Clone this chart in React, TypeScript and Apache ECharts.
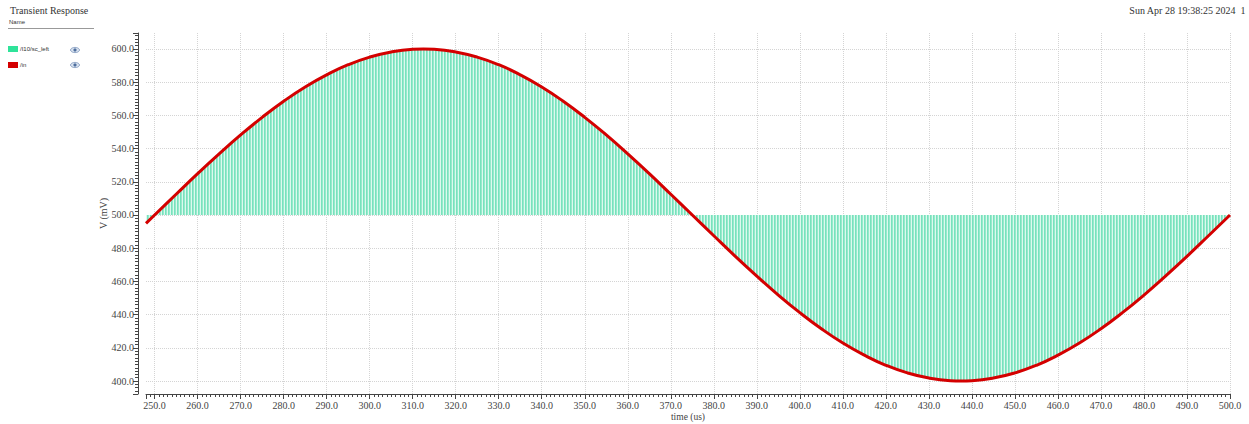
import React, { useEffect, useRef } from "react";
import * as echarts from "echarts";

// time (us)
const timeUs = [
  248, 250, 255, 260, 265, 270, 275, 280, 285, 290, 295, 300, 305, 310, 312.5, 315, 320, 325, 330,
  335, 340, 345, 350, 355, 360, 365, 370, 375, 380, 385, 390, 395, 400, 405, 410, 415, 420,
  425, 430, 435, 437.5, 440, 445, 450, 455, 460, 465, 470, 475, 480, 485, 490, 495, 500,
];
// /in (mV)
const vInMv = [
  495.0, 500.0, 512.5, 524.9, 536.8, 548.2, 558.8, 568.5, 577.1, 584.4, 590.5, 595.1, 598.2, 599.8, 600.0, 599.8,
  598.2, 595.1, 590.5, 584.4, 577.1, 568.5, 558.8, 548.2, 536.8, 524.9, 512.5, 500.0, 487.5,
  475.1, 463.2, 451.8, 441.2, 431.5, 422.9, 415.6, 409.5, 404.9, 401.8, 400.2, 400.0, 400.2, 401.8,
  404.9, 409.5, 415.6, 422.9, 431.5, 441.2, 451.8, 463.2, 475.1, 487.5, 500.0,
];
// /I10/sc_left sampled envelope (mV) — follows the input peaks
const scLeftMv = vInMv;
const scLeftBaseline = 500;

const legendNames = ["/I10/sc_left", "/in"];
const legendColors = ["#2fe39a", "#d40000"];

const SERIF = '"Liberation Serif", "DejaVu Serif", serif';
const SANS = '"Liberation Sans", "DejaVu Sans", sans-serif';

function makeStripe(): string {
  const c = document.createElement("canvas");
  c.width = 3;
  c.height = 1;
  const ctx = c.getContext("2d")!;
  const cols = ["#78e1bd", "#96eacb", "#dcf9ee"];
  cols.forEach((col, i) => {
    ctx.fillStyle = col;
    ctx.fillRect(i, 0, 1, 1);
  });
  return c.toDataURL();
}

function eye(x: number, y: number) {
  return {
    type: "group",
    x,
    y,
    children: [
      { type: "ellipse", shape: { cx: 0, cy: 0, rx: 4.5, ry: 2.6 }, style: { fill: "#dbe4f0", stroke: "#7d97bd", lineWidth: 0.8 } },
      { type: "circle", shape: { cx: 0, cy: 0, r: 1.6 }, style: { fill: "#4f6f9e" } },
    ],
  };
}

export default function App() {
  const ref = useRef<HTMLDivElement>(null);
  useEffect(() => {
    if (!ref.current) return;
    const chart = echarts.init(ref.current, undefined, { renderer: "svg" });
    const pts = timeUs.map((t, i) => [t, vInMv[i]]);
    const env = timeUs.map((t, i) => [t, scLeftMv[i]]);
    const stripe = makeStripe();
    chart.setOption({
      animation: false,
      backgroundColor: "#ffffff",
      grid: { left: 146, right: 19, top: 33, bottom: 30, containLabel: false, outerBoundsMode: "none" },
      xAxis: {
        type: "value",
        min: 248,
        max: 500,
        splitNumber: 25,
        name: "time (us)",
        nameLocation: "middle",
        nameGap: 18,
        nameMoveOverlap: false,
        nameTextStyle: { fontFamily: SERIF, fontSize: 9.5, color: "#444" },
        axisLine: { show: true, lineStyle: { color: "#444", width: 1 } },
        axisTick: { show: true, length: 5, lineStyle: { color: "#444" } },
        minorTick: { show: true, splitNumber: 10, length: 3, lineStyle: { color: "#444" } },
        axisLabel: {
          fontFamily: SERIF,
          fontSize: 10,
          color: "#444",
          margin: 6,
          showMinLabel: false,
          formatter: (v: number) => v.toFixed(1),
        },
        splitLine: {
          show: true,
          showMinLine: false,
          lineStyle: { color: "#d4d4d4", type: "dotted", width: 1 },
        },
      },
      yAxis: {
        type: "value",
        min: 392.2,
        max: 609.6,
        splitNumber: 11,
        offset: 8,
        name: "V (mV)",
        nameLocation: "middle",
        nameGap: 30,
        nameMoveOverlap: false,
        nameTextStyle: { fontFamily: SERIF, fontSize: 10, color: "#444" },
        axisLine: { show: true, lineStyle: { color: "#444", width: 1 } },
        axisTick: { show: true, length: 5, lineStyle: { color: "#444" } },
        minorTick: { show: true, splitNumber: 10, length: 3, lineStyle: { color: "#444" } },
        axisLabel: {
          fontFamily: SERIF,
          fontSize: 10,
          color: "#444",
          margin: 4,
          showMinLabel: false,
          showMaxLabel: false,
          formatter: (v: number) => v.toFixed(1),
        },
        splitLine: {
          show: true,
          showMinLine: false,
          showMaxLine: false,
          lineStyle: { color: "#d4d4d4", type: "dotted", width: 1 },
        },
      },
      series: [
        {
          name: legendNames[0],
          type: "line",
          data: env,
          smooth: true,
          showSymbol: false,
          lineStyle: { width: 0, opacity: 0 },
          areaStyle: {
            origin: scLeftBaseline,
            opacity: 1,
            color: { image: stripe, repeat: "repeat", imageWidth: 3, imageHeight: 1 },
          },
          z: 2,
        },
        {
          name: legendNames[1],
          type: "line",
          data: pts,
          smooth: true,
          showSymbol: false,
          lineStyle: { width: 3, color: legendColors[1] },
          z: 3,
        },
      ],
      graphic: [
        { type: "text", left: 10, top: 5, style: { text: "Transient Response", fontFamily: SERIF, fontSize: 10, fill: "#333" } },
        { type: "text", left: 9, top: 19, style: { text: "Name", fontFamily: SANS, fontSize: 6, fill: "#333" } },
        { type: "line", shape: { x1: 8, y1: 28.5, x2: 94, y2: 28.5 }, style: { stroke: "#999", lineWidth: 1 } },
        { type: "rect", shape: { x: 8, y: 46, width: 10, height: 6 }, style: { fill: legendColors[0] } },
        { type: "text", left: 20, top: 46, style: { text: legendNames[0], fontFamily: SANS, fontSize: 6, fill: "#333" } },
        eye(75, 50),
        { type: "rect", shape: { x: 8, y: 62, width: 10, height: 6 }, style: { fill: legendColors[1] } },
        { type: "text", left: 20, top: 62, style: { text: legendNames[1], fontFamily: SANS, fontSize: 6, fill: "#333" } },
        eye(75, 65),
        { type: "text", right: 3, top: 5, style: { text: "Sun Apr 28 19:38:25 2024  1", fontFamily: SERIF, fontSize: 10, fill: "#333" } },
      ],
    });
    return () => chart.dispose();
  }, []);
  return (
    <div
      ref={ref}
      style={{ position: "fixed", left: 0, top: 0, width: 1249, height: 424, background: "#fff" }}
    />
  );
}
